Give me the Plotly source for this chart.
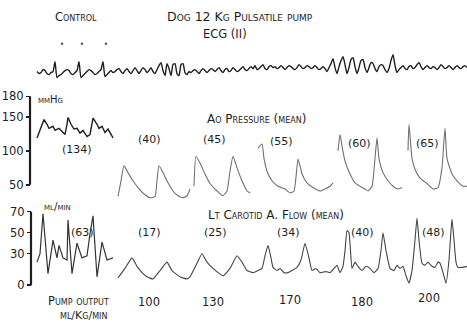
import plotly.graph_objects as go

W, H = 467, 323

# ---------------- data ----------------
# ECG (II): deflection (arbitrary units), sampled regularly in time
ecg_t0, ecg_dt = 37, 2
ecg_vals = [-2, -4, -3, 0, -1, -4, -5, -3, -2, 8, -8, -6, -5, -3, -1, 0, -1, -4, -5, -3,
            -1, 8, -8, -6, -4, -2, 0, -1, -3, -5, -4, -2, 0, 8, -7,
            -5, -3, -1, -3, -2, 0, 1, -2, -4, -1, 1, -2, -4, -1, 2, -1, -4, -1, 2, 0,
            -3, -1, 2, -2, -4, 0, 4, 7, -1, -6, 6, 1, -6, 5, 6, -4, -6,
            5, 6, -3, -5, -2, -3, -1, 0, -2, -4, -1, 1, -1, -3, -1, 1, 0, -2, 0, 2,
            -1, -3, 0, 1, -2, -1, 2, 0, -2, -1, 1, 3, 0, -1, 1, 3, 1, 4, 0, 1,
            3, 5, 1, 0, 3, 4, 2, 3, 1, 2, 4, 2, 0, 2, 4, 3, 1, 0, 2, 5,
            3, 1, 2, 4, 3, 1, 2, 4, 2, 0, 1, 3, 1, -2, 2, 6,
            11, 2, -4, 3, 9, 13, 5, -4, 2, 10, 12, 3, -4, 2, 9, 10, 2, -3, 2, 7,
            6, 1, -2, 3, 5, 4, 0, -3, 1, 9, 15, 4, -3, 0,
            2, 4, 1, 0, 3, 4, 1, 2, 5, 7, 3, 0, 2, 4, 2, 1, 3, 2, 0, 2,
            5, 3, 1, 2, 4, 2, 0, 2, 4, 2, 1, 3, 4, 2]
ecg_t = [ecg_t0 + i * ecg_dt for i in range(len(ecg_vals))]
marker_t = [62, 82, 106]
marker_v = [26, 26, 26]

# Ao pressure (mmHg)
ctrl_p_t = [37, 42, 44, 47, 49, 53, 55, 59, 63, 65, 67, 68, 71, 74, 77, 80, 83, 87, 90, 93, 97, 99, 102, 105, 108, 112, 113]
ctrl_p_v = [119, 139, 146, 139, 133, 136, 130, 133, 126, 124, 139, 149, 139, 132, 133, 126, 130, 121, 124, 148, 139, 133, 136, 127, 132, 121, 119]

p100_t = [118, 121, 124, 128, 133, 138, 143, 150, 155, 157, 159, 163, 168, 173, 178, 183, 187, 190]
p100_v = [33, 56, 78, 68, 56, 46, 38, 31, 33, 56, 78, 68, 53, 41, 34, 31, 34, 44]
p130_t = [194, 196, 200, 205, 210, 217, 223, 227, 230, 233, 237, 242, 247, 250]
p130_v = [48, 92, 82, 66, 52, 41, 34, 41, 70, 92, 75, 56, 41, 38]
p170_t = [258, 262, 264, 267, 272, 278, 285, 290, 294, 298, 300, 302, 307, 313, 320, 325, 330, 333]
p170_v = [104, 110, 89, 70, 56, 48, 44, 38, 41, 88, 78, 66, 53, 46, 41, 44, 48, 53]
p180_t = [338, 340, 342, 345, 350, 355, 360, 365, 368, 372, 375, 377, 379, 383, 388, 393, 398, 402]
p180_v = [100, 124, 107, 85, 66, 53, 48, 44, 41, 48, 89, 119, 89, 68, 56, 48, 44, 46]
p200_t = [408, 409, 412, 415, 420, 427, 433, 438, 442, 445, 447, 452, 457, 463, 467]
p200_v = [100, 139, 89, 73, 60, 52, 44, 46, 75, 133, 89, 66, 56, 48, 48]

# Lt carotid A. flow (ml/min)
ctrl_f_t = [37, 40, 43, 48, 53, 57, 59, 63, 67, 68, 72, 77, 82, 87, 90, 93, 97, 102, 107, 113]
ctrl_f_v = [22, 30, 68, 11, 43, 26, 38, 26, 24, 62, 11, 40, 26, 28, 49, 66, 8, 41, 24, 26]

pump_f_t = [118, 125, 132, 137, 142, 147, 153, 160, 167, 172, 180, 187, 190, 196, 202, 207, 213, 223, 230, 237,
            242, 247, 253, 258, 262, 265, 268, 271, 273, 277, 280, 284, 288, 292, 297, 301, 305, 309, 312, 316,
            320, 326, 330, 334, 337, 340, 343, 345, 347, 349, 352, 355, 358, 362, 366, 370, 374, 378, 381, 383,
            386, 390, 394, 397, 400, 403, 406, 409, 412, 415, 417, 419, 422, 425, 428, 432, 435, 438, 440, 443,
            446, 449, 451, 452, 454, 456, 458, 462, 467]
pump_f_v = [7, 16, 26, 18, 12, 8, 6, 14, 22, 14, 8, 6, 8, 19, 30, 22, 16, 9, 16, 28,
            22, 14, 12, 14, 16, 28, 38, 26, 17, 14, 16, 12, 12, 14, 17, 24, 40, 26, 14, 16,
            12, 13, 12, 16, 19, 12, 18, 33, 52, 50, 16, 22, 18, 14, 18, 16, 12, 16, 33, 50,
            33, 16, 14, 19, 16, 18, 9, 2, 14, 43, 64, 43, 21, 19, 22, 18, 17, 22, 21, 12,
            2, 24, 52, 63, 43, 22, 17, 17, 18]

p_ticks = [50, 100, 150, 180]
f_ticks = [0, 30, 50, 70]
mean_pressure = ["(134)", "(40)", "(45)", "(55)", "(60)", "(65)"]
mean_flow = ["(63)", "(17)", "(25)", "(34)", "(40)", "(48)"]
pump_output = ["100", "130", "170", "180", "200"]

# ---------------- figure ----------------
INK = "#1e1e1e"
FONT = "DejaVu Sans"
fig = go.Figure()

fig.add_trace(go.Scatter(x=ecg_t, y=ecg_vals, yaxis="y3", mode="lines",
                         line=dict(color=INK, width=1.4, shape="spline", smoothing=0.6)))
fig.add_trace(go.Scatter(x=marker_t, y=marker_v, yaxis="y3", mode="markers",
                         marker=dict(color="#555", size=2.5)))

fig.add_trace(go.Scatter(x=ctrl_p_t, y=ctrl_p_v, yaxis="y", mode="lines",
                         line=dict(color=INK, width=1.4)))
for t, v in [(p100_t, p100_v), (p130_t, p130_v), (p170_t, p170_v),
             (p180_t, p180_v), (p200_t, p200_v)]:
    fig.add_trace(go.Scatter(x=t, y=v, yaxis="y", mode="lines",
                             line=dict(color="#707070", width=1.1, shape="spline", smoothing=0.5)))

fig.add_trace(go.Scatter(x=ctrl_f_t, y=ctrl_f_v, yaxis="y2", mode="lines",
                         line=dict(color="#333", width=1.2)))
fig.add_trace(go.Scatter(x=pump_f_t, y=pump_f_v, yaxis="y2", mode="lines",
                         line=dict(color="#444", width=1.1, shape="spline", smoothing=0.4)))


def pyf(px):
    return 1 - px / H


# pressure axis: 50 mmHg at 184px, 0.685 px/mmHg
p_dom = (90, 205)
p_rng = [50 + (184 - p_dom[1]) / 0.685, 50 + (184 - p_dom[0]) / 0.685]
# flow axis: 0 at 285px, 1.057 px per ml/min
f_dom = (205, 295)
f_rng = [(285 - f_dom[1]) / 1.057, (285 - f_dom[0]) / 1.057]
e_dom = (40, 90)
e_rng = [68 - e_dom[1], 68 - e_dom[0]]

tickfont = dict(family=FONT, size=11.5, color=INK)
fig.update_layout(
    width=W, height=H, margin=dict(l=0, r=0, t=0, b=0),
    paper_bgcolor="white", plot_bgcolor="white", showlegend=False,
    xaxis=dict(range=[0, W], domain=[0, 1], visible=False, fixedrange=True),
    yaxis=dict(domain=[pyf(p_dom[1]), pyf(p_dom[0])], range=p_rng,
               anchor="free", position=30 / W, showline=False, showgrid=False,
               zeroline=False, tickmode="array", tickvals=p_ticks,
               ticks="outside", ticklen=4, tickwidth=1.5, tickcolor=INK,
               tickfont=tickfont),
    yaxis2=dict(domain=[pyf(f_dom[1]), pyf(f_dom[0])], range=f_rng,
                anchor="free", position=31 / W, showline=False, showgrid=False,
                zeroline=False, tickmode="array", tickvals=f_ticks,
                ticks="outside", ticklen=4, tickwidth=1.5, tickcolor=INK,
                tickfont=tickfont),
    yaxis3=dict(domain=[pyf(e_dom[1]), pyf(e_dom[0])], range=e_rng, visible=False),
)

fig.add_shape(type="line", xref="paper", x0=30 / W, x1=30 / W, yref="y",
              y0=p_ticks[0], y1=p_ticks[-1], line=dict(color=INK, width=2.2))
fig.add_shape(type="line", xref="paper", x0=31 / W, x1=31 / W, yref="y2",
              y0=f_ticks[0], y1=f_ticks[-1], line=dict(color=INK, width=2.2))


def label(text, x, y, size=11.5, caps=True):
    fig.add_annotation(text=text, xref="paper", yref="paper", x=x / W, y=pyf(y),
                       xanchor="center", yanchor="middle", showarrow=False,
                       font=dict(family=FONT, size=size, color=INK,
                                 variant="small-caps" if caps else "normal"))


label("Control", 76, 15)
label("Dog 12 Kg Pulsatile pump", 240, 15, size=12.5)
label("ECG (II)", 225, 32)
label("mmHg", 50, 98, size=10)
label("Ao Pressure (mean)", 256, 118, size=12)
label("ml/min", 57, 205, size=10.5)
label("Lt Carotid A. Flow (mean)", 276, 214, size=12)
label("Pump output", 78, 301)
label("ml/Kg/min", 83, 315, size=11)

for txt, x, y in zip(mean_pressure, [77, 149, 214, 281, 359, 427], [148, 138, 138, 140, 142, 142]):
    label(txt, x, y, size=11, caps=False)
for txt, x in zip(mean_flow, [82, 149, 215, 288, 362, 433]):
    label(txt, x, 232, size=11, caps=False)
for txt, x, y in zip(pump_output, [149, 213, 290, 362, 429], [302, 302, 300, 302, 298]):
    label(txt, x, y, size=11.5, caps=False)

fig.write_html("out.html", config={"displayModeBar": False, "staticPlot": True},
               post_script="document.body.style.margin='0';")
